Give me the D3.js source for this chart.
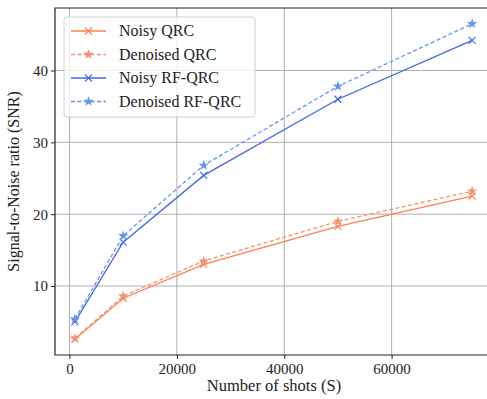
<!DOCTYPE html>
<html>
<head>
<meta charset="utf-8">
<script src="https://cdn.jsdelivr.net/npm/d3@7"></script>
<style>
  body { margin: 0; background: #fff; overflow: hidden; }
  svg { display: block; }
  text { font-family: "Liberation Serif", "DejaVu Serif", serif; }
</style>
</head>
<body>
<div id="chart"></div>
<script>
// data
const shots = [1000, 10000, 25000, 50000, 75000];
const noisyQRC = [2.6, 8.3, 13.0, 18.3, 22.5];
const denoisedQRC = [2.7, 8.6, 13.5, 19.0, 23.2];
const noisyRF = [5.0, 16.1, 25.4, 36.0, 44.2];
const denoisedRF = [5.4, 17.0, 26.8, 37.8, 46.5];
const xTicks = [0, 20000, 40000, 60000];
const yTicks = [10, 20, 30, 40];

const series = [
  { name: 'Noisy QRC', values: noisyQRC, color: '#ff7f50', dash: null, marker: 'x' },
  { name: 'Denoised QRC', values: denoisedQRC, color: '#ee9572', dash: '4,2.5', marker: 'star' },
  { name: 'Noisy RF-QRC', values: noisyRF, color: '#4169e1', dash: null, marker: 'x' },
  { name: 'Denoised RF-QRC', values: denoisedRF, color: '#6495ed', dash: '4,2.5', marker: 'star' }
];

const width = 487, height = 399;
const margin = { left: 55, top: 8, right: -5, bottom: 44 };

const svg = d3.select('#chart').append('svg')
  .attr('width', width)
  .attr('height', height);

const x = d3.scaleLinear()
  .domain([-2700, 78700])
  .range([margin.left, width - margin.right]);

const y = d3.scaleLinear()
  .domain([0.4, 48.7])
  .range([height - margin.bottom, margin.top]);

// grid
svg.append('g').selectAll('line')
  .data(xTicks).enter().append('line')
  .attr('x1', d => x(d)).attr('x2', d => x(d))
  .attr('y1', y.range()[0]).attr('y2', y.range()[1])
  .attr('stroke', '#b0b0b0').attr('stroke-width', 1);
svg.append('g').selectAll('line')
  .data(yTicks).enter().append('line')
  .attr('x1', x.range()[0]).attr('x2', x.range()[1])
  .attr('y1', d => y(d)).attr('y2', d => y(d))
  .attr('stroke', '#b0b0b0').attr('stroke-width', 1);

// axes
const xAxis = svg.append('g')
  .attr('transform', `translate(0,${y.range()[0]})`)
  .call(d3.axisBottom(x).tickValues(xTicks).tickFormat(d3.format('d')).tickSizeOuter(0).tickSize(4).tickPadding(4));
const yAxis = svg.append('g')
  .attr('transform', `translate(${x.range()[0]},0)`)
  .call(d3.axisLeft(y).tickValues(yTicks).tickSizeOuter(0).tickSize(4).tickPadding(3));
[xAxis, yAxis].forEach(a => {
  a.select('.domain').remove();
  a.selectAll('text').style('font-size', '15px').attr('fill', '#222')
    .style('font-family', '"Liberation Serif", serif');
  a.selectAll('line').attr('stroke', '#222');
});

// spines (right one falls outside the picture)
const [x0, x1] = x.range(), [y0, y1] = y.range();
svg.append('path')
  .attr('d', `M${x1},${y1}H${x0}V${y0}H${x1}`)
  .attr('fill', 'none').attr('stroke', '#222').attr('stroke-width', 1.2);

// lines
const line = d3.line()
  .x((d, i) => x(shots[i]))
  .y(d => y(d));

const star = d3.symbol().type(d3.symbolStar).size(34);

function drawMarker(g, s, cx, cy) {
  if (s.marker === 'x') {
    const r = 3.5;
    g.append('path')
      .attr('d', `M${cx - r},${cy - r}L${cx + r},${cy + r}M${cx - r},${cy + r}L${cx + r},${cy - r}`)
      .attr('stroke', s.color).attr('stroke-width', 1.1).attr('fill', 'none');
  } else {
    g.append('path')
      .attr('d', star())
      .attr('transform', `translate(${cx},${cy})`)
      .attr('fill', s.color);
  }
}

series.forEach(s => {
  const g = svg.append('g');
  g.append('path')
    .datum(s.values)
    .attr('d', line)
    .attr('fill', 'none')
    .attr('stroke', s.color)
    .attr('stroke-width', 1.3)
    .attr('stroke-dasharray', s.dash);
  s.values.forEach((v, i) => drawMarker(g, s, x(shots[i]), y(v)));
});

// axis labels
svg.append('text')
  .attr('x', (margin.left + width) / 2 + 3)
  .attr('y', height - 8)
  .attr('text-anchor', 'middle')
  .style('font-size', '16.5px')
  .attr('fill', '#222')
  .text('Number of shots (S)');

svg.append('text')
  .attr('transform', `translate(19,${(y0 + y1) / 2}) rotate(-90)`)
  .attr('text-anchor', 'middle')
  .style('font-size', '16px')
  .attr('fill', '#222')
  .text('Signal-to-Noise ratio (SNR)');

// legend
const lg = svg.append('g').attr('transform', 'translate(64,17)');
lg.append('rect')
  .attr('width', 191).attr('height', 100)
  .attr('rx', 3)
  .attr('fill', 'white').attr('fill-opacity', 0.8)
  .attr('stroke', '#d0d0d0');
series.forEach((s, i) => {
  const cy = 14 + i * 23.5;
  lg.append('line')
    .attr('x1', 7).attr('x2', 42)
    .attr('y1', cy).attr('y2', cy)
    .attr('stroke', s.color).attr('stroke-width', 1.3)
    .attr('stroke-dasharray', s.dash);
  drawMarker(lg, s, 24.5, cy);
  lg.append('text')
    .attr('x', 55).attr('y', cy + 5)
    .style('font-size', '16px')
    .attr('fill', '#222')
    .text(s.name);
});
</script>
</body>
</html>
